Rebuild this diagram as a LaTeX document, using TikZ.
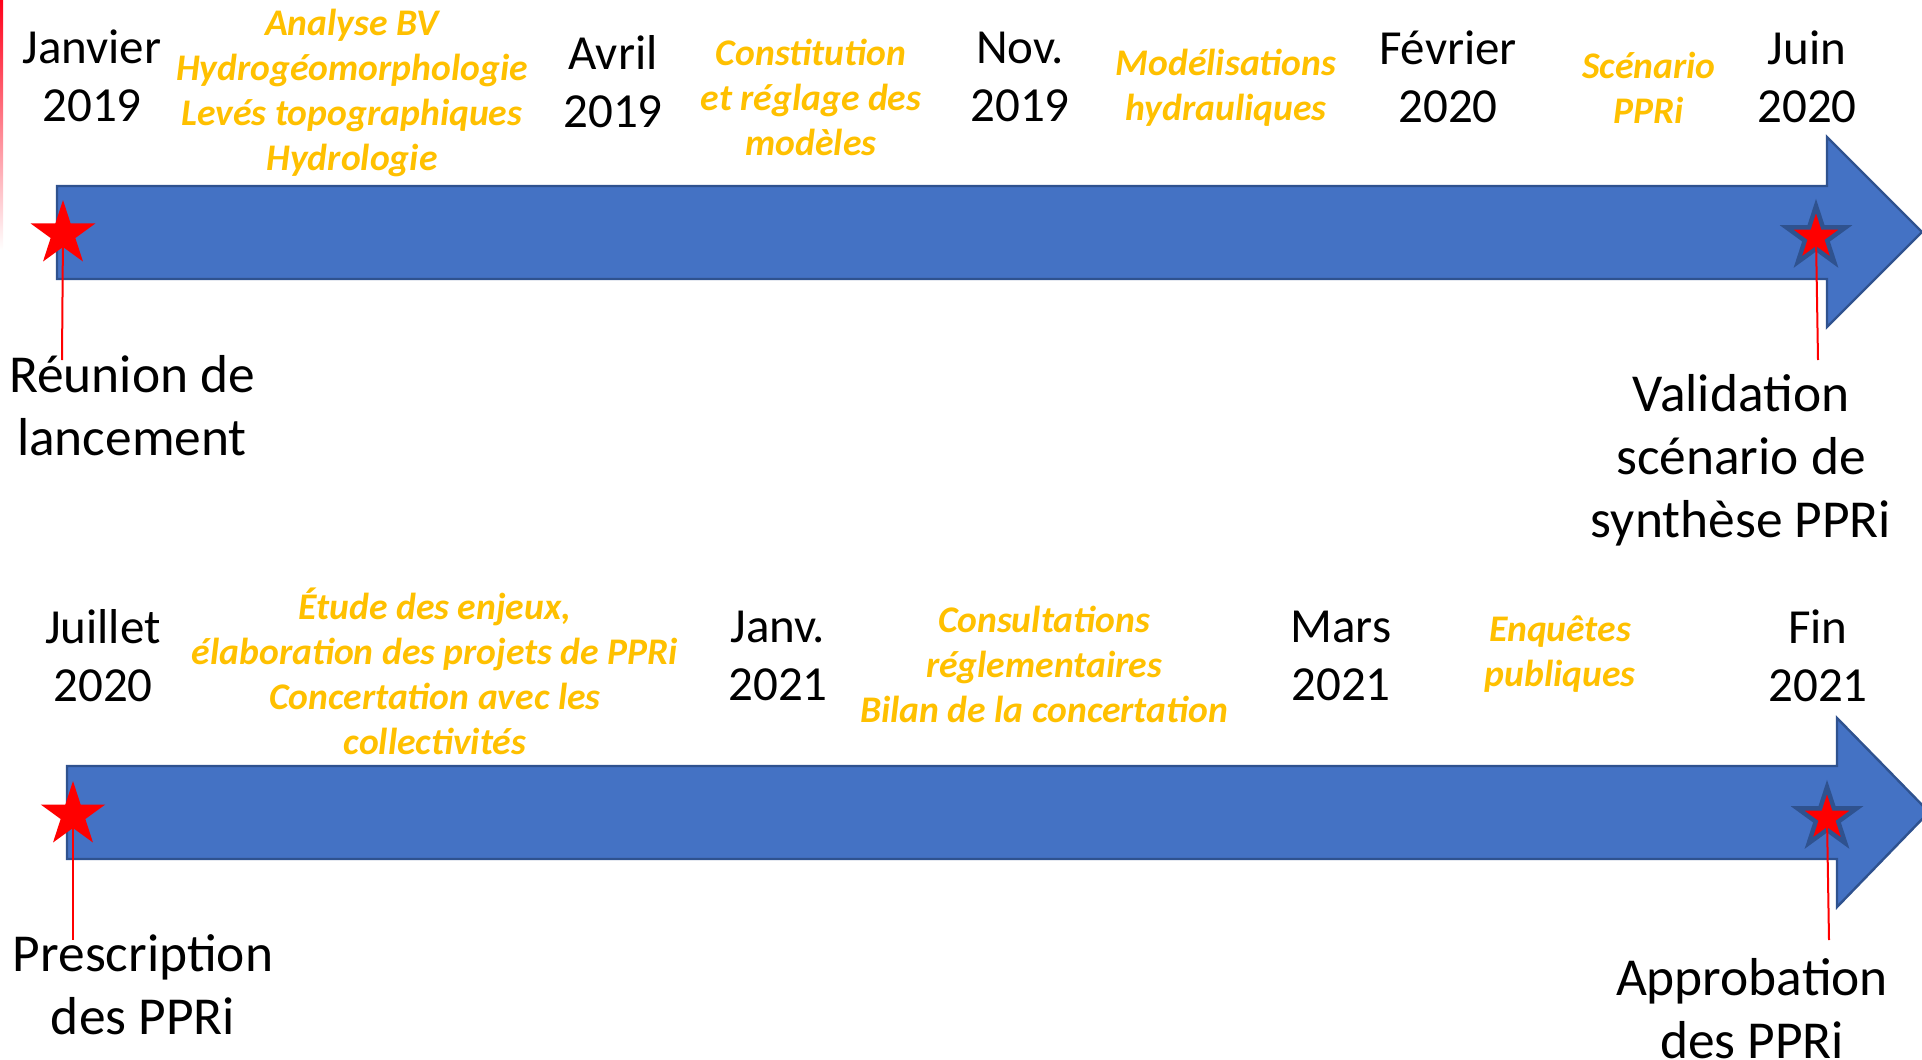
\documentclass[tikz,border=0pt]{standalone}
\usepackage{fontspec}
\setmainfont{Carlito}
\usetikzlibrary{shapes.geometric}
\definecolor{barblue}{HTML}{4472C4}
\definecolor{barline}{HTML}{2F528F}
\definecolor{gold}{HTML}{FFC000}
\begin{document}
\begin{tikzpicture}[x=0.5pt,y=-0.5pt,
 date/.style={font=\fontsize{24.5}{29}\selectfont, align=center, text=black, inner sep=0},
 task/.style={font=\fontsize{18.8}{22.5}\selectfont\bfseries\itshape, align=center, text=gold, inner sep=0},
 event/.style={font=\fontsize{26.7}{31.5}\selectfont, align=center, text=black, inner sep=0},
 bar/.style={fill=barblue, draw=barline, line width=1.2pt, line join=miter},
 bigstar/.style={star, star points=5, star point ratio=2.618, fill=red, inner sep=0, minimum size=34pt},
 smallstar/.style={star, star points=5, star point ratio=2.618, fill=red, draw=barline, line width=2.2pt, inner sep=0, minimum size=31pt},
 stem/.style={red, line width=1pt}]
\useasboundingbox (0,0) rectangle (1922,1060);
% faint edge mark
\shade[top color=red!90!magenta, bottom color=white] (0,0) rectangle (3,250);
% arrows
\draw[bar] (57,186) -- (1827,186) -- (1827,137) -- (1922,232) -- (1827,327) -- (1827,279) -- (57,279) -- cycle;
\draw[bar] (67,766) -- (1837,766) -- (1837,718) -- (1929,812) -- (1837,907) -- (1837,859) -- (67,859) -- cycle;
% stars
\node[bigstar] (s1) at (63,234) {};
\node[smallstar] (s2) at (1816,237) {};
\node[bigstar] (s3) at (73,815) {};
\node[smallstar] (s4) at (1827,818) {};
\coordinate (e1) at (62,360);
\coordinate (e2) at (1818,360);
\coordinate (e3) at (73,940);
\coordinate (e4) at (1829,940);
\draw[stem] (s1.center) -- (e1);
\draw[stem] (s2.center) -- (e2);
\draw[stem] (s3.center) -- (e3);
\draw[stem] (s4.center) -- (e4);
% top row
\node[date] (d1) at (92,76) {Janvier\\2019};
\node[date] (d2) at (613,82) {Avril\\2019};
\node[date] (d3) at (1020,77) {Nov.\\2019};
\node[date] (d4) at (1448,77) {Février\\2020};
\node[date] (d5) at (1807,77) {Juin\\2020};
\node[task] (t1) at (352,93) {Analyse BV\\Hydrogéomorphologie\\Levés topographiques\\Hydrologie};
\node[task] (t2) at (811,97) {Constitution\\et réglage des\\modèles};
\node[task] (t3) at (1226,88) {Modélisations\\hydrauliques};
\node[task] (t4) at (1649,88) {Scénario\\PPRi};
\node[event] (v1) at (132,406) {Réunion de\\lancement};
\node[event] (v2) at (1741,460) {Validation\\scénario de\\synthèse PPRi};
% bottom row
\node[date] (d6) at (103,656) {Juillet\\2020};
\node[date] (d7) at (778,656) {Janv.\\2021};
\node[date] (d8) at (1341,656) {Mars\\2021};
\node[date] (d9) at (1818,656) {Fin\\2021};
\node[task] (t5) at (435,671) {Étude des enjeux,\\élaboration des projets de PPRi\\Concertation avec les\\collectivités};
\node[task] (t6) at (1044,664) {Consultations\\réglementaires\\Bilan de la concertation};
\node[task] (t7) at (1560,654) {Enquêtes\\publiques};
\node[event] (v3) at (143,985) {Prescription\\des PPRi};
\node[event] (v4) at (1752,1009) {Approbation\\des PPRi};
\end{tikzpicture}
\end{document}
